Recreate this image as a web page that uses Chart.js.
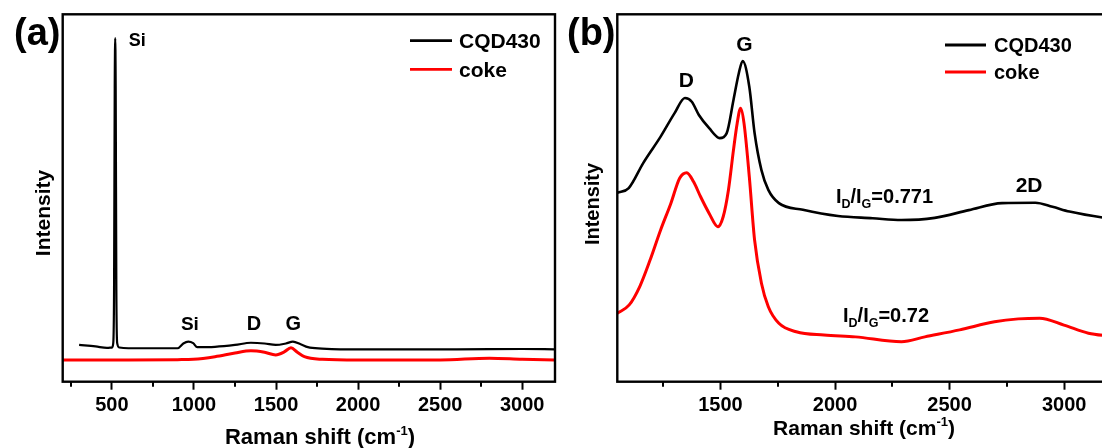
<!DOCTYPE html>
<html>
<head>
<meta charset="utf-8">
<script src="https://cdn.jsdelivr.net/npm/chart.js@4.4.1/dist/chart.umd.min.js"></script>
<style>
  html, body { margin: 0; padding: 0; background: #fff; overflow: hidden; width: 1102px; height: 448px; }
  canvas { position: absolute; top: 0; }
  #chartA { left: 0; }
  #chartB { left: 560px; }
</style>
</head>
<body>
<canvas id="chartA" width="560" height="448"></canvas>
<canvas id="chartB" width="560" height="448"></canvas>
<script>
// (a) full range spectra, Raman shift (cm-1) / intensity (a.u.)
const ramanA_cqd = [300, 400, 470, 500, 508, 513, 517, 520, 523, 527, 532, 545, 600, 750, 900, 935, 965, 995, 1020, 1128, 1250, 1347, 1430, 1498, 1560, 1603, 1650, 1694, 1780, 1891, 2200, 2600, 3000, 3200];
const intA_cqd = [10.0, 9.6, 9.2, 9.3, 10.5, 25, 80, 93.5, 80, 25, 10.5, 9.3, 9.1, 9.1, 9.1, 10.4, 10.9, 10.5, 9.4, 9.5, 10.0, 10.6, 10.4, 10.0, 10.4, 10.9, 10.2, 9.4, 9.0, 8.8, 8.8, 8.8, 8.9, 8.8];
const ramanA_coke = [200, 600, 900, 996, 1128, 1250, 1347, 1430, 1498, 1550, 1591, 1630, 1673, 1782, 2000, 2500, 2800, 3000, 3200];
const intA_coke = [5.9, 5.9, 6.0, 6.1, 6.8, 7.8, 8.4, 8.0, 7.3, 8.1, 9.25, 8.0, 6.8, 6.1, 5.9, 5.9, 6.4, 6.1, 5.9];

// (b) carbon region
const ramanB_cqd = [1050, 1100, 1163, 1239, 1300, 1345, 1375, 1406, 1451, 1497, 1527, 1557, 1580, 1597, 1626, 1649, 1679, 1709, 1755, 1860, 2013, 2164, 2290, 2435, 2584, 2729, 2874, 2949, 3023, 3167, 3200];
const intB_cqd = [51.4, 52.7, 59.5, 66.7, 73.1, 77.2, 76.2, 72.6, 69.0, 66.3, 67.6, 76.7, 83.9, 87.3, 80.3, 67.7, 57.6, 52.2, 48.6, 46.8, 45.1, 44.5, 44.0, 44.6, 46.7, 48.6, 48.7, 47.6, 46.3, 44.7, 44.5];
const ramanB_coke = [1050, 1102, 1148, 1193, 1239, 1284, 1322, 1353, 1383, 1413, 1451, 1489, 1512, 1535, 1557, 1573, 1588, 1603, 1626, 1649, 1679, 1709, 1755, 1831, 1952, 2089, 2290, 2392, 2544, 2696, 2800, 2893, 2999, 3106, 3200];
const intB_coke = [18.6, 20.9, 25.9, 33.1, 41.3, 48.6, 55.4, 56.9, 54.4, 50.4, 45.8, 42.2, 44.9, 52.2, 63.1, 70.3, 74.4, 70.3, 55.8, 38.6, 26.8, 20.4, 15.9, 13.6, 12.7, 12.2, 10.9, 12.2, 14.1, 16.3, 17.1, 17.3, 15.4, 13.2, 12.4];

const seriesNames = ["CQD430", "coke"];
const seriesColors = ["#000000", "#ff0000"];

const majorTicksA = [500, 1000, 1500, 2000, 2500, 3000];
const minorTicksA = [250, 750, 1250, 1750, 2250, 2750];
const majorTicksB = [1500, 2000, 2500, 3000];
const minorTicksB = [1250, 1750, 2250, 2750];

const FONT = '"Liberation Sans", Arial, sans-serif';

function pts(xs, ys) {
  return xs.map((x, i) => ({ x: x, y: ys[i] }));
}

// draw text made of parts [text, size, dy]
function drawRich(ctx, x, y, parts, align) {
  let w = 0;
  parts.forEach(p => {
    ctx.font = "bold " + p[1] + "px " + FONT;
    w += ctx.measureText(p[0]).width;
  });
  let cx = align === "center" ? x - w / 2 : x;
  ctx.textAlign = "left";
  ctx.textBaseline = "alphabetic";
  parts.forEach(p => {
    ctx.font = "bold " + p[1] + "px " + FONT;
    ctx.fillText(p[0], cx, y + (p[2] || 0));
    cx += ctx.measureText(p[0]).width;
  });
}

const decorPlugin = {
  id: "decor",
  afterDraw(chart, args, o) {
    const ctx = chart.ctx;
    const a = chart.chartArea;
    const xs = chart.scales.x;
    const ys = chart.scales.y;
    const off = o.offset;
    ctx.save();
    ctx.fillStyle = "#000";
    ctx.strokeStyle = "#000";

    // frame
    ctx.lineWidth = 2.4;
    ctx.strokeRect(a.left, a.top, a.right - a.left, a.bottom - a.top);

    // minor ticks
    ctx.lineWidth = 2;
    ctx.beginPath();
    o.minor.forEach(v => {
      const px = Math.round(xs.getPixelForValue(v));
      ctx.moveTo(px, a.bottom);
      ctx.lineTo(px, a.bottom + 5);
    });
    ctx.stroke();

    // panel letter
    drawRich(ctx, o.letter[1] - off, o.letter[2], [[o.letter[0], 38]], "left");

    // axis titles
    drawRich(ctx, o.xTitle.x - off, o.xTitle.y, [
      ["Raman shift (cm", o.xTitle.size],
      ["-1", Math.round(o.xTitle.size * 0.6), -9],
      [")", o.xTitle.size]
    ], "center");
    ctx.save();
    ctx.translate(o.yTitle.x - off, o.yTitle.y);
    ctx.rotate(-Math.PI / 2);
    drawRich(ctx, 0, 0, [["Intensity", o.yTitle.size]], "center");
    ctx.restore();

    // legend
    const lg = o.legend;
    chart.data.datasets.forEach((ds, i) => {
      const yy = lg.y + i * lg.gap;
      ctx.strokeStyle = ds.borderColor;
      ctx.lineWidth = 2.8;
      ctx.beginPath();
      ctx.moveTo(lg.x1 - off, yy);
      ctx.lineTo(lg.x2 - off, yy);
      ctx.stroke();
      drawRich(ctx, lg.tx - off, yy + lg.size * 0.36, [[ds.label, lg.size]], "left");
    });

    // peak labels, placed in data coordinates
    o.labels.forEach(l => {
      const px = xs.getPixelForValue(l.x);
      const py = ys.getPixelForValue(l.y) + l.parts[0][1] * 0.36;
      drawRich(ctx, px, py, l.parts, l.align || "center");
    });
    ctx.restore();
  }
};

function makeChart(id, cfg) {
  return new Chart(document.getElementById(id), {
    type: "line",
    data: {
      datasets: cfg.series.map((s, i) => ({
        label: seriesNames[i],
        data: s,
        borderColor: seriesColors[i],
        borderWidth: cfg.widths[i],
        pointRadius: 0,
        fill: false,
        cubicInterpolationMode: "monotone"
      }))
    },
    options: {
      responsive: false,
      animation: false,
      layout: { padding: cfg.padding },
      plugins: {
        legend: { display: false },
        tooltip: { enabled: false },
        decor: cfg.decor
      },
      scales: {
        x: {
          type: "linear",
          min: cfg.xMin,
          max: cfg.xMax,
          afterBuildTicks: scale => {
            scale.ticks = cfg.major.map(v => ({ value: v }));
          },
          afterFit: scale => {
            scale.height = 66.3;
          },
          border: { display: false },
          grid: {
            drawOnChartArea: false,
            drawTicks: true,
            tickLength: 8,
            tickWidth: 2,
            tickColor: "#000"
          },
          ticks: {
            autoSkip: false,
            maxRotation: 0,
            padding: 4,
            color: "#000",
            font: { family: FONT, size: 20, weight: "bold" },
            callback: v => String(v)
          }
        },
        y: { display: false, min: 0, max: 100 }
      }
    },
    plugins: [decorPlugin]
  });
}

makeChart("chartA", {
  series: [pts(ramanA_cqd, intA_cqd), pts(ramanA_coke, intA_coke)],
  widths: [2.2, 3],
  xMin: 200,
  xMax: 3200,
  major: majorTicksA,
  padding: { left: 62.7, right: 5, top: 14.3, bottom: 0 },
  decor: {
    offset: 0,
    minor: minorTicksA,
    letter: ["(a)", 14, 45],
    xTitle: { x: 320, y: 444, size: 22 },
    yTitle: { x: 50, y: 213, size: 21 },
    legend: { x1: 410, x2: 452, tx: 459, y: 40.7, gap: 28.6, size: 21 },
    labels: [
      { x: 603, y: 93.0, parts: [["Si", 18]], align: "left" },
      { x: 975, y: 16.0, parts: [["Si", 19]] },
      { x: 1365, y: 16.0, parts: [["D", 20]] },
      { x: 1605, y: 16.0, parts: [["G", 20]] }
    ]
  }
});

makeChart("chartB", {
  series: [pts(ramanB_cqd, intB_cqd), pts(ramanB_coke, intB_coke)],
  widths: [2.6, 3],
  xMin: 1050,
  xMax: 3200,
  major: majorTicksB,
  padding: { left: 57.3, right: 10, top: 14.3, bottom: 0 },
  decor: {
    offset: 560,
    minor: minorTicksB,
    letter: ["(b)", 567, 45],
    xTitle: { x: 864, y: 435, size: 21 },
    yTitle: { x: 599, y: 204, size: 20 },
    legend: { x1: 945, x2: 986, tx: 994, y: 45, gap: 27, size: 20 },
    labels: [
      { x: 1351, y: 82.4, parts: [["D", 21]] },
      { x: 1605, y: 92.2, parts: [["G", 21]] },
      { x: 2847, y: 53.8, parts: [["2D", 21]] },
      { x: 2004, y: 50.5, parts: [["I", 20], ["D", 12.5, 5], ["/I", 20], ["G", 12.5, 5], ["=0.771", 20]], align: "left" },
      { x: 2035, y: 18.1, parts: [["I", 20], ["D", 12.5, 5], ["/I", 20], ["G", 12.5, 5], ["=0.72", 20]], align: "left" }
    ]
  }
});
</script>
</body>
</html>
